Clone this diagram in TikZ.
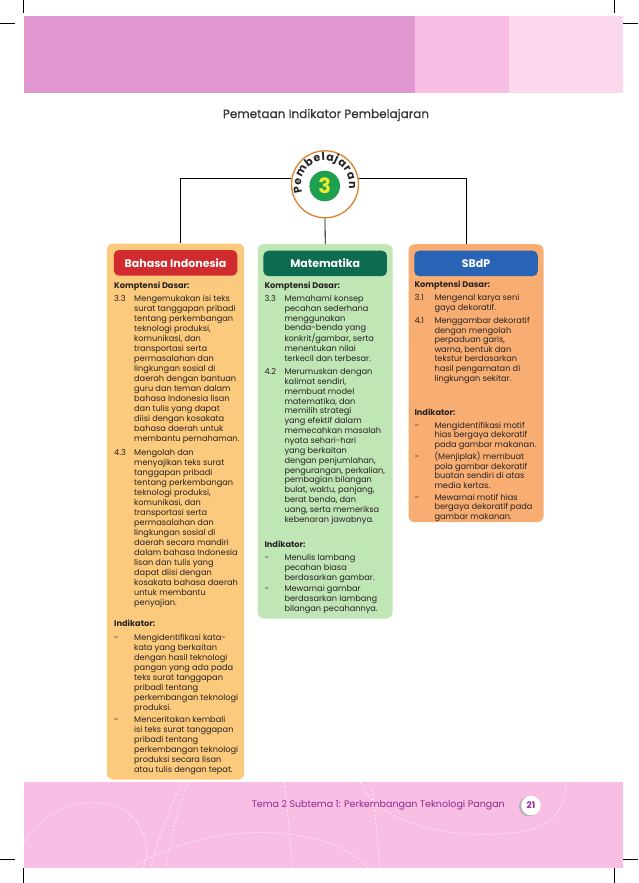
\documentclass[tikz,border=0pt]{standalone}
\usepackage{fontspec}
\setmainfont{Poppins}
\usetikzlibrary{positioning,decorations.text}
\definecolor{pinkA}{HTML}{E096CF}
\definecolor{pinkB}{HTML}{F9BEE3}
\definecolor{pinkC}{HTML}{FBD8EC}
\definecolor{oranye}{HTML}{FCCA7C}
\definecolor{hijaumuda}{HTML}{C0E6B6}
\definecolor{salem}{HTML}{F8AE72}
\definecolor{merah}{HTML}{D12B2F}
\definecolor{hijautua}{HTML}{0D6B4F}
\definecolor{biru}{HTML}{2863B6}
\definecolor{hijau}{HTML}{1EA04E}
\definecolor{kuning}{HTML}{E9EC2B}
\definecolor{cincin}{HTML}{D9822E}
\definecolor{ungu}{HTML}{8D2A8E}
\definecolor{teks}{HTML}{262223}
\definecolor{judul}{HTML}{333333}
\newcommand\butir[2]{\makebox[20pt][l]{#1}\begin{tabular}[t]{@{}l@{}}#2\end{tabular}}
\newcommand\baris[1]{\begin{tabular}[t]{@{}l@{}}#1\end{tabular}}
\begin{document}
\begin{tikzpicture}[x=1pt,y=-1pt,
		kotak/.style={rounded corners=6pt, inner sep=0pt, anchor=north west},
		kepala/.style={rounded corners=5pt, minimum width=123.5pt, minimum height=25.5pt, inner sep=0pt, text=white, font=\bfseries\fontsize{11}{13}\selectfont, below=6.5pt of #1.north},
		isi/.style={inner sep=0pt, anchor=north west, text=teks, font=\fontsize{8.2}{#1}\selectfont},
		isi/.default=10pt,
		lanjut/.style 2 args={below=#2 of #1.south west, anchor=north west},
		garis/.style={line width=0.8pt},
		tanda/.style={line width=0.6pt},
		deko/.style={white, opacity=0.6, line width=0.9pt, dash pattern=on 2pt off 2pt}]
	\useasboundingbox (0,0) rectangle (638,883);
	\fill[white] (0,0) rectangle (638,883);
	\fill[pinkA] (24,16) rectangle (415,93.3);
	\fill[pinkB] (415,16) rectangle (508.5,93.3);
	\fill[pinkC] (508.5,16) rectangle (622.5,93.3);
	\draw[tanda] (23.2,0) -- (23.2,13.3);
	\draw[tanda] (614.3,0) -- (614.3,13.3);
	\draw[tanda] (0,23.3) -- (15,23.3);
	\draw[tanda] (623.3,23.3) -- (638,23.3);
	\draw[tanda] (0,859.3) -- (15,859.3);
	\draw[tanda] (623.3,859.3) -- (638,859.3);
	\draw[tanda] (23.2,868.3) -- (23.2,883);
	\draw[tanda] (614.3,868.3) -- (614.3,883);

	\node[text=judul, font=\fontsize{12}{14}\selectfont\addfontfeatures{FakeBold=0.4}] (judul) at (326,115) {Pemetaan Indikator Pembelajaran};

	\node[circle, draw=cincin, line width=1.3pt, fill=white, minimum size=67pt, inner sep=0pt] (pb) at (325,184.3) {};
	\node[circle, fill=hijau, minimum size=30.6pt, inner sep=0pt, text=kuning, font=\bfseries\fontsize{21}{21}\selectfont] (tiga) at (324.7,186) {3};
	\path[decorate, decoration={text along path, text={|\bfseries\fontsize{11}{11}\selectfont|Pembelajaran}, text align={fit to path}, text color=teks}] (302.45,192.51) arc[start angle=-200, end angle=10, radius=24];

	\node[kotak, fill=oranye, minimum width=137.3pt, minimum height=535.9pt] (bin) at (106.7,243.4) {};
	\node[kotak, fill=hijaumuda, minimum width=134.6pt, minimum height=374.3pt] (mtk) at (257.7,244) {};
	\node[kotak, fill=salem, minimum width=135pt, minimum height=278pt] (sbdp) at (408.3,244) {};

	\draw[garis] (pb.170) -| ([xshift=4.6pt]bin.north);
	\draw[garis] (pb.10) -| ([xshift=-9.8pt]sbdp.north);
	\draw[garis] (pb.south) -- (mtk.north);

	\node[kepala=bin, fill=merah] (binH) {Bahasa Indonesia};
	\node[kepala=mtk, fill=hijautua] (mtkH) {Matematika};
	\node[kepala=sbdp, fill=biru] (sbdpH) {SBdP};

	\node[isi] (binK) at (114,281) {\baris{\bfseries Komptensi Dasar:}};
	\node[isi, lanjut={binK}{3pt}] (bin33) {\butir{3.3}{Mengemukakan isi teks\\surat tanggapan pribadi\\tentang perkembangan\\teknologi produksi,\\komunikasi, dan\\transportasi serta\\permasalahan dan\\lingkungan sosial di\\daerah dengan bantuan\\guru dan teman dalam\\bahasa Indonesia lisan\\dan tulis yang dapat\\diisi dengan kosakata\\bahasa daerah untuk\\membantu pemahaman.}};
	\node[isi, lanjut={bin33}{3pt}] (bin43) {\butir{4.3}{Mengolah dan\\menyajikan teks surat\\tanggapan pribadi\\tentang perkembangan\\teknologi produksi,\\komunikasi, dan\\transportasi serta\\permasalahan dan\\lingkungan sosial di\\daerah secara mandiri\\dalam bahasa Indonesia\\lisan dan tulis yang\\dapat diisi dengan\\kosakata bahasa daerah\\untuk membantu\\penyajian.}};
	\node[isi, lanjut={bin43}{11pt}] (binI) {\baris{\bfseries Indikator:}};
	\node[isi, lanjut={binI}{4pt}] (bin1) {\butir{-}{Mengidentifikasi kata-\\kata yang berkaitan\\dengan hasil teknologi\\pangan yang ada pada\\teks surat tanggapan\\pribadi tentang\\perkembangan teknologi\\produksi.}};
	\node[isi, lanjut={bin1}{1pt}] (bin2) {\butir{-}{Menceritakan kembali\\isi teks surat tanggapan\\pribadi tentang\\perkembangan teknologi\\produksi secara lisan\\atau tulis dengan tepat.}};

	\node[isi=9.85pt] (mtkK) at (264.3,281) {\baris{\bfseries Komptensi Dasar:}};
	\node[isi=9.85pt, lanjut={mtkK}{3pt}] (mtk33) {\butir{3.3}{Memahami konsep\\pecahan sederhana\\menggunakan\\benda-benda yang\\konkrit/gambar, serta\\menentukan nilai\\terkecil dan terbesar.}};
	\node[isi=9.85pt, lanjut={mtk33}{3pt}] (mtk42) {\butir{4.2}{Merumuskan dengan\\kalimat sendiri,\\membuat model\\matematika, dan\\memilih strategi\\yang efektif dalam\\memecahkan masalah\\nyata sehari-hari\\yang berkaitan\\dengan penjumlahan,\\pengurangan, perkalian,\\pembagian bilangan\\bulat, waktu, panjang,\\berat benda, dan\\uang, serta memeriksa\\kebenaran jawabnya.}};
	\node[isi=9.85pt, lanjut={mtk42}{15pt}] (mtkI) {\baris{\bfseries Indikator:}};
	\node[isi=9.85pt, lanjut={mtkI}{3pt}] (mtk1) {\butir{-}{Menulis lambang\\pecahan biasa\\berdasarkan gambar.}};
	\node[isi=9.85pt, lanjut={mtk1}{1pt}] (mtk2) {\butir{-}{Mewarnai gambar\\berdasarkan lambang\\bilangan pecahannya.}};

	\node[isi=9.6pt] (sbdpK) at (414.3,281) {\baris{\bfseries Komptensi Dasar:}};
	\node[isi=9.6pt, lanjut={sbdpK}{3pt}] (sbdp31) {\butir{3.1}{Mengenal karya seni\\gaya dekoratif.}};
	\node[isi=9.6pt, lanjut={sbdp31}{3pt}] (sbdp41) {\butir{4.1}{Menggambar dekoratif\\dengan mengolah\\perpaduan garis,\\warna, bentuk dan\\tekstur berdasarkan\\hasil pengamatan di\\lingkungan sekitar.}};
	\node[isi=9.6pt, lanjut={sbdp41}{24pt}] (sbdpI) {\baris{\bfseries Indikator:}};
	\node[isi=9.6pt, lanjut={sbdpI}{3pt}] (sbdp1) {\butir{-}{Mengidentifikasi motif\\hias bergaya dekoratif\\pada gambar makanan.}};
	\node[isi=9.6pt, lanjut={sbdp1}{1.5pt}] (sbdp2) {\butir{-}{(Menjiplak) membuat\\pola gambar dekoratif\\buatan sendiri di atas\\media kertas.}};
	\node[isi=9.6pt, lanjut={sbdp2}{1.5pt}] (sbdp3) {\butir{-}{Mewarnai motif hias\\bergaya dekoratif pada\\gambar makanan.}};

	\fill[pinkB] (24.4,782.3) rectangle (622.5,868.3);
	\begin{scope}
		\clip (24.4,782.3) rectangle (622.5,868.3);
		\draw[deko] (24,842) .. controls (50,800) and (110,790) .. (135,820) .. controls (150,840) and (150,860) .. (140,870);
		\draw[deko] (150,870) .. controls (160,830) and (172,805) .. (183,780);
		\draw[deko] (165,870) .. controls (172,835) and (178,805) .. (190,780);
		\draw[deko] (130,870) .. controls (200,820) and (330,820) .. (370,870);
		\draw[deko] (284,782) .. controls (288,810) and (290,840) .. (292,870);
		\draw[deko] (360,782) .. controls (380,830) and (470,842) .. (530,830) .. controls (560,822) and (566,800) .. (566,782);
		\draw[deko] (372,790) .. controls (376,820) and (378,845) .. (380,870);
	\end{scope}
	\node[anchor=east, text=ungu, font=\fontsize{9.5}{11}\selectfont] (tema) at (508.3,805) {Tema 2 Subtema 1: Perkembangan Teknologi Pangan};
	\fill[black!30] (529,806.3) circle (10);
	\node[circle, fill=white, minimum size=19.5pt, inner sep=0pt, text=ungu, font=\bfseries\fontsize{9}{9}\selectfont] (hal) at (531,805.5) {21};
\end{tikzpicture}
\end{document}
